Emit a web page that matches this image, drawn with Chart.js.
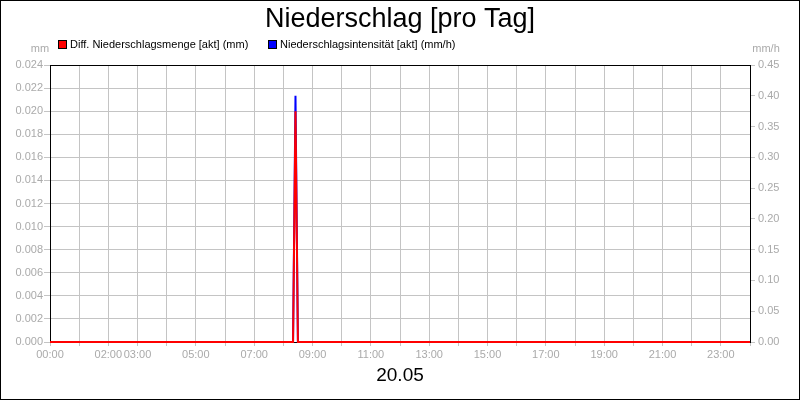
<!DOCTYPE html>
<html>
<head>
<meta charset="utf-8">
<title>Niederschlag [pro Tag]</title>
<script src="https://cdn.jsdelivr.net/npm/chart.js@4/dist/chart.umd.min.js"></script>
<style>
  html, body { margin: 0; padding: 0; background: #fff; }
  #wrap { width: 800px; height: 400px; position: relative; }
</style>
</head>
<body>
<div id="wrap"><canvas id="rainChart"></canvas></div>
<script>
// Zeitpunkte in Minuten seit 00:00
const times = [0, 500, 505, 510, 1440];
const mengeValues = [0, 0, 0.020, 0, 0];        // Diff. Niederschlagsmenge [akt] (mm)
const intensValues = [0, 0, 0.40, 0, 0];        // Niederschlagsintensität [akt] (mm/h)
const labeledHours = [0, 2, 3, 5, 7, 9, 11, 13, 15, 17, 19, 21, 23];
const dayLabel = '20.05';

const GRID = '#c4c4c4';
const TICK = '#aaaaaa';
const FONT = "'Liberation Sans', Arial, sans-serif";

Chart.defaults.font.family = FONT;
Chart.defaults.animation = false;

const toPoints = vals => times.map((t, i) => ({ x: t, y: vals[i] }));

// Rahmen, Legende und Einheiten
const framePlugin = {
  id: 'frame',
  beforeDatasetsDraw(chart) {
    const { ctx, chartArea: a } = chart;
    ctx.save();
    ctx.strokeStyle = '#000';
    ctx.lineWidth = 1;
    ctx.beginPath();
    ctx.moveTo(a.left, a.top + 0.5);
    ctx.lineTo(a.right, a.top + 0.5);
    ctx.stroke();
    ctx.restore();
  },
  afterDraw(chart) {
    const { ctx } = chart;
    ctx.save();
    // Aussenrahmen
    ctx.strokeStyle = '#000';
    ctx.lineWidth = 1;
    ctx.strokeRect(0.5, 0.5, chart.width - 1, chart.height - 1);

    // Legende
    ctx.font = '11px ' + FONT;
    ctx.textBaseline = 'middle';
    ctx.textAlign = 'left';
    const legendX = [58, 268];
    chart.data.datasets.forEach((ds, i) => {
      const x = legendX[i];
      ctx.fillStyle = ds.borderColor;
      ctx.fillRect(x, 40, 8, 8);
      ctx.strokeStyle = '#000';
      ctx.strokeRect(x + 0.5, 40.5, 8, 8);
      ctx.fillStyle = '#000';
      ctx.fillText(ds.label, x + 12, 45);
    });

    // Einheiten
    ctx.fillStyle = TICK;
    ctx.textAlign = 'center';
    ctx.fillText('mm', 40, 49);
    ctx.fillText('mm/h', 766, 49);
    ctx.restore();
  }
};

const ctx = document.getElementById('rainChart').getContext('2d');
const rainChart = new Chart(ctx, {
  type: 'line',
  data: {
    datasets: [
      {
        label: 'Diff. Niederschlagsmenge [akt] (mm)',
        data: toPoints(mengeValues),
        borderColor: '#ff0000',
        backgroundColor: '#ff0000',
        borderWidth: 2,
        pointRadius: 0,
        tension: 0,
        clip: 2,
        yAxisID: 'y'
      },
      {
        label: 'Niederschlagsintensität [akt] (mm/h)',
        data: toPoints(intensValues),
        borderColor: '#0000ff',
        backgroundColor: '#0000ff',
        borderWidth: 2,
        pointRadius: 0,
        tension: 0,
        clip: 2,
        yAxisID: 'y1'
      }
    ]
  },
  options: {
    responsive: true,
    maintainAspectRatio: false,
    layout: { padding: 0 },
    plugins: {
      legend: { display: false },
      tooltip: { enabled: false },
      title: {
        display: true,
        text: 'Niederschlag [pro Tag]',
        color: '#000',
        font: { size: 27, weight: 'normal', lineHeight: 1.2 },
        padding: { top: 3, bottom: 29.6 }
      }
    },
    scales: {
      x: {
        type: 'linear',
        min: 0,
        max: 1440,
        afterFit: s => { s.height = 58; },
        grid: { color: GRID, tickLength: 4, tickColor: GRID },
        border: { color: '#000', width: 1 },
        ticks: {
          stepSize: 60,
          maxTicksLimit: 30,
          autoSkip: false,
          maxRotation: 0,
          padding: 2,
          color: TICK,
          font: { size: 11 },
          callback: v => {
            const h = v / 60;
            return labeledHours.includes(h) ? String(h).padStart(2, '0') + ':00' : '';
          }
        },
        title: {
          display: true,
          text: dayLabel,
          color: '#000',
          font: { size: 19, lineHeight: 1.2 },
          padding: { top: 0, bottom: 13 }
        }
      },
      y: {
        position: 'left',
        min: 0,
        max: 0.024,
        afterFit: s => { s.width = 50; },
        grid: { color: GRID, tickLength: 6, tickColor: GRID },
        border: { color: '#000', width: 1 },
        ticks: {
          stepSize: 0.002,
          padding: 1,
          color: TICK,
          font: { size: 11 },
          callback: v => v.toFixed(3)
        }
      },
      y1: {
        position: 'right',
        min: 0,
        max: 0.45,
        afterFit: s => { s.width = 50; },
        grid: { drawOnChartArea: false, tickLength: 5, tickColor: GRID },
        border: { color: '#000', width: 1 },
        ticks: {
          stepSize: 0.05,
          padding: 3,
          color: TICK,
          font: { size: 11 },
          callback: v => v.toFixed(2)
        }
      }
    }
  },
  plugins: [framePlugin]
});
</script>
</body>
</html>
